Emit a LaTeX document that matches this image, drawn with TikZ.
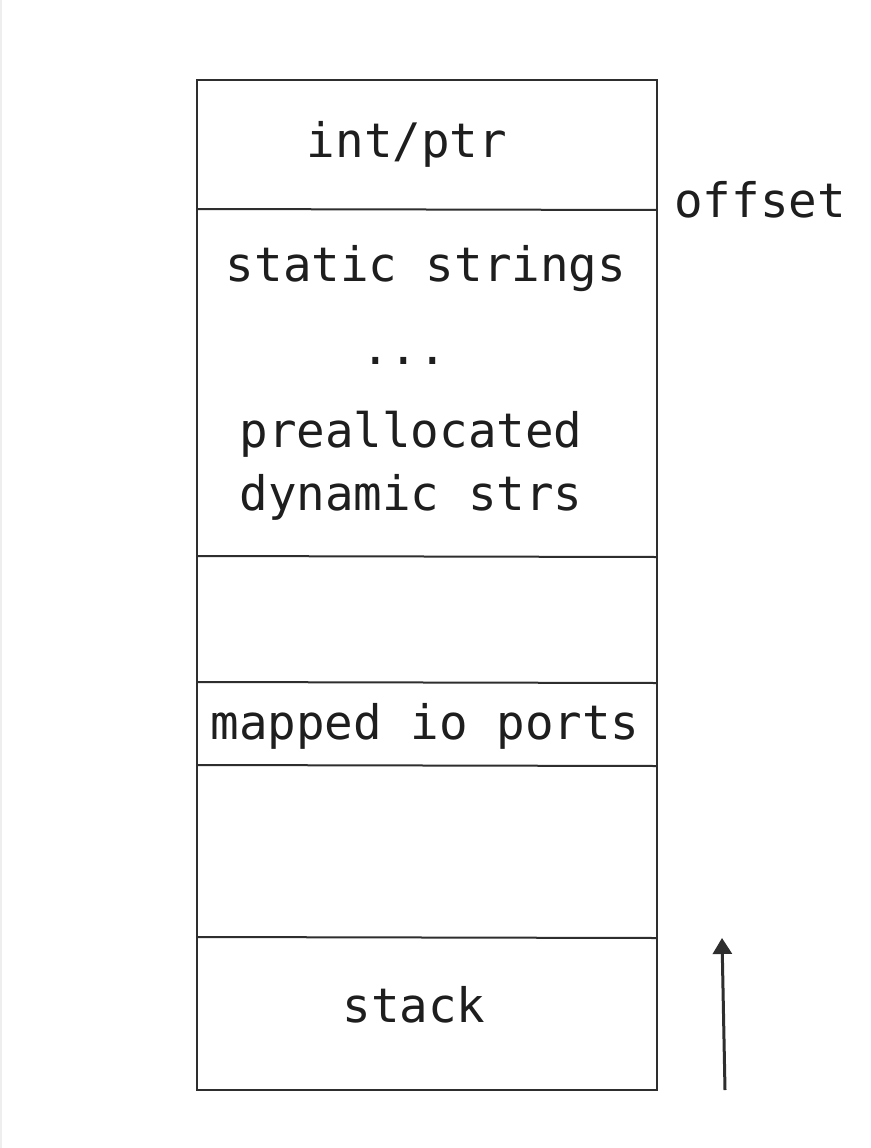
\documentclass[tikz,border=0pt]{standalone}
\usepackage{fontspec}
\setmonofont{DejaVu Sans Mono}
\usetikzlibrary{arrows.meta}
\definecolor{ink}{HTML}{1E1E1E}
\definecolor{edge}{HTML}{2E2E2E}
\definecolor{faint}{HTML}{EEEEEE}
\tikzset{
  memline/.style={draw=edge, line width=2pt},
  lbl/.style={anchor=base, inner sep=0pt, text=ink, font=\ttfamily\fontsize{47.5}{57}\selectfont},
  uparrow/.style={draw=edge, line width=3pt, -{Triangle[width=19pt,length=16pt]}}
}
\begin{document}
\begin{tikzpicture}[x=1pt,y=-1pt]
\useasboundingbox (0,0) rectangle (870,1148);
\fill[white] (0,0) rectangle (870,1148);
\draw[faint, line width=1.5pt] (1,0) -- (1,1148);
% outer box
\coordinate (tl) at (197,80);
\coordinate (br) at (657,1090);
\draw[memline] (tl) rectangle (br);
% dividers
\coordinate (d1l) at (197,209); \coordinate (d1r) at (657,210);
\coordinate (d2l) at (197,556); \coordinate (d2r) at (657,557);
\coordinate (d3l) at (197,682); \coordinate (d3r) at (657,683);
\coordinate (d4l) at (197,765); \coordinate (d4r) at (657,766);
\coordinate (d5l) at (197,937); \coordinate (d5r) at (657,938);
\draw[memline] (d1l) -- (d1r);
\draw[memline] (d2l) -- (d2r);
\draw[memline] (d3l) -- (d3r);
\draw[memline] (d4l) -- (d4r);
\draw[memline] (d5l) -- (d5r);
% labels
\node[lbl] (intptr) at (407,157) {int/ptr};
\node[lbl] (offset) at (760,217) {offset};
\node[lbl] (static) at (426,281) {static strings};
\node[lbl] (dots) at (404,364) {...};
\node[lbl] (prealloc) at (411,447) {preallocated};
\node[lbl] (dynstr) at (411,510) {dynamic strs};
\node[lbl] (mapped) at (425,739) {mapped io ports};
\node[lbl] (stack) at (414,1022) {stack};
% arrow
\coordinate (abot) at (725,1090);
\coordinate (atop) at (722,938);
\draw[uparrow] (abot) -- (atop);
\end{tikzpicture}
\end{document}
